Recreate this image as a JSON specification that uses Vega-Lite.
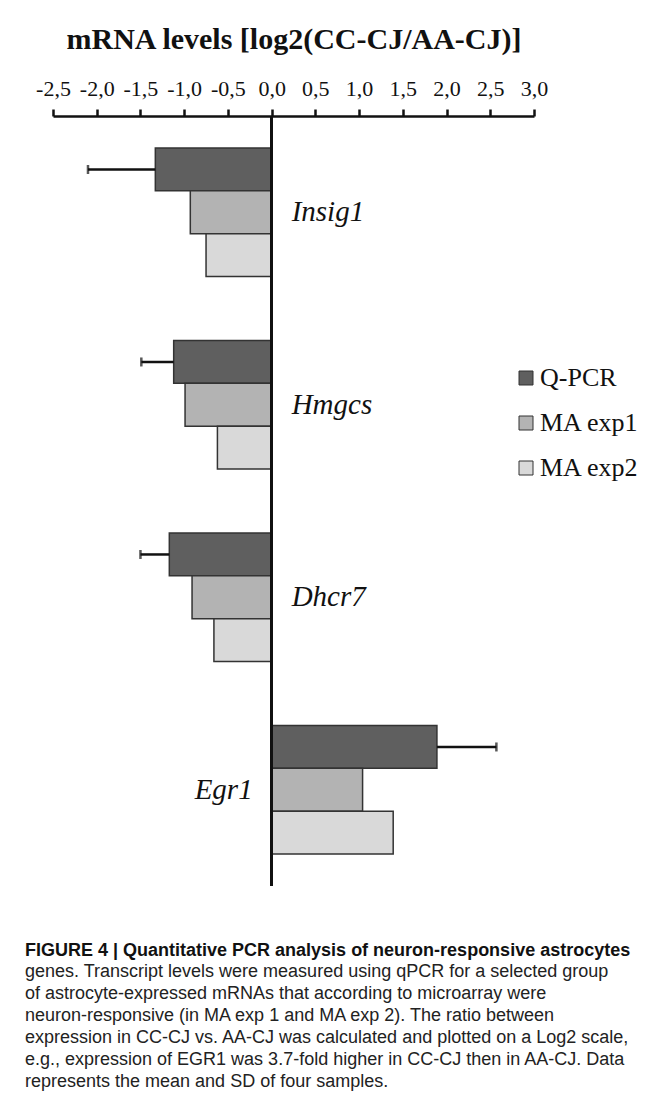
{
  "$schema": "https://vega.github.io/schema/vega-lite/v6.json",
  "width": 481,
  "height": 770,
  "padding": {"left": 25, "top": 24, "right": 5, "bottom": 5},
  "background": "white",
  "config": {"view": {"stroke": null}},
  "title": {
    "text": "FIGURE 4 | Quantitative PCR analysis of neuron-responsive astrocytes",
    "subtitle": [
      "genes.  Transcript levels were measured using qPCR for a selected group",
      "of astrocyte-expressed mRNAs that according to microarray were",
      "neuron-responsive (in MA exp 1 and MA exp 2). The ratio between",
      "expression in CC-CJ vs. AA-CJ was calculated and plotted on a Log2 scale,",
      "e.g., expression of EGR1 was 3.7-fold higher in CC-CJ then in AA-CJ. Data",
      "represents the mean and SD of four samples."
    ],
    "orient": "bottom",
    "anchor": "start",
    "frame": "group",
    "dx": -28,
    "offset": 55,
    "font": "Liberation Sans",
    "fontSize": 18,
    "fontWeight": "bold",
    "color": "#111",
    "subtitleFont": "Liberation Sans",
    "subtitleFontSize": 18,
    "subtitleColor": "#222",
    "subtitleLineHeight": 22,
    "subtitlePadding": 3
  },
  "data": {
    "values": [
      {"gene": "Insig1", "series": "Q-PCR", "value": -1.33, "err": -2.10},
      {"gene": "Insig1", "series": "MA exp1", "value": -0.93, "err": null},
      {"gene": "Insig1", "series": "MA exp2", "value": -0.75, "err": null},
      {"gene": "Hmgcs", "series": "Q-PCR", "value": -1.12, "err": -1.49},
      {"gene": "Hmgcs", "series": "MA exp1", "value": -0.99, "err": null},
      {"gene": "Hmgcs", "series": "MA exp2", "value": -0.62, "err": null},
      {"gene": "Dhcr7", "series": "Q-PCR", "value": -1.17, "err": -1.50},
      {"gene": "Dhcr7", "series": "MA exp1", "value": -0.91, "err": null},
      {"gene": "Dhcr7", "series": "MA exp2", "value": -0.66, "err": null},
      {"gene": "Egr1", "series": "Q-PCR", "value": 1.89, "err": 2.57},
      {"gene": "Egr1", "series": "MA exp1", "value": 1.04, "err": null},
      {"gene": "Egr1", "series": "MA exp2", "value": 1.39, "err": null}
    ]
  },
  "encoding": {
    "y": {
      "field": "gene",
      "type": "nominal",
      "axis": null,
      "scale": {
        "domain": ["Insig1", "Hmgcs", "Dhcr7", "Egr1"],
        "paddingInner": 0.3333,
        "paddingOuter": 0.1667
      }
    }
  },
  "layer": [
    {
      "mark": {"type": "bar", "stroke": "#333333", "strokeWidth": 1.5},
      "encoding": {
        "x": {
          "field": "value",
          "type": "quantitative",
          "scale": {"domain": [-2.5, 3], "nice": false, "zero": false},
          "axis": {
            "orient": "top",
            "title": "mRNA levels [log2(CC-CJ/AA-CJ)]",
            "titleFont": "Liberation Serif",
            "titleFontSize": 30,
            "titleFontWeight": "bold",
            "titleColor": "#111",
            "titlePadding": 23,
            "values": [-2.5, -2, -1.5, -1, -0.5, 0, 0.5, 1, 1.5, 2, 2.5, 3],
            "labelExpr": "(datum.value < 0 ? '-' : '') + replace(format(abs(datum.value), '.1f'), '.', ',')",
            "labelFont": "Liberation Serif",
            "labelFontSize": 22,
            "labelColor": "#111",
            "labelPadding": 9,
            "labelFlush": false,
            "labelOverlap": false,
            "grid": false,
            "domainColor": "#111",
            "domainWidth": 2.5,
            "tickColor": "#111",
            "tickWidth": 2.5,
            "tickSize": 7
          }
        },
        "yOffset": {
          "field": "series",
          "type": "nominal",
          "scale": {"domain": ["Q-PCR", "MA exp1", "MA exp2"], "paddingInner": 0, "paddingOuter": 0}
        },
        "color": {
          "field": "series",
          "type": "nominal",
          "scale": {"domain": ["Q-PCR", "MA exp1", "MA exp2"], "range": ["#5f5f5f", "#b3b3b3", "#d9d9d9"]},
          "legend": {
            "title": null,
            "orient": "none",
            "legendX": 460,
            "legendY": 249,
            "padding": 0,
            "symbolType": "square",
            "symbolSize": 196,
            "symbolStrokeColor": "#333333",
            "symbolStrokeWidth": 1,
            "symbolOpacity": 1,
            "labelFont": "Liberation Serif",
            "labelFontSize": 26,
            "labelColor": "#111",
            "labelOffset": 1,
            "rowPadding": 19
          }
        }
      }
    },
    {
      "transform": [{"filter": "datum.err != null"}],
      "mark": {"type": "rule", "color": "#111", "strokeWidth": 2.5},
      "encoding": {
        "x": {"field": "value", "type": "quantitative"},
        "x2": {"field": "err"},
        "yOffset": {"field": "series", "type": "nominal"}
      }
    },
    {
      "transform": [{"filter": "datum.err != null"}],
      "mark": {"type": "tick", "color": "#111", "thickness": 2.5, "size": 9, "orient": "vertical"},
      "encoding": {
        "x": {"field": "err", "type": "quantitative"},
        "yOffset": {"field": "series", "type": "nominal"}
      }
    },
    {
      "mark": {"type": "rule", "color": "#111", "strokeWidth": 2.5},
      "encoding": {"x": {"datum": 0}, "y": null}
    },
    {
      "transform": [{"filter": "datum.series == 'MA exp1' && datum.value < 0"}],
      "mark": {"type": "text", "align": "left", "baseline": "middle", "dx": 20, "font": "Liberation Serif", "fontStyle": "italic", "fontSize": 29, "color": "#111"},
      "encoding": {"x": {"datum": 0}, "text": {"field": "gene"}}
    },
    {
      "transform": [{"filter": "datum.series == 'MA exp1' && datum.value > 0"}],
      "mark": {"type": "text", "align": "right", "baseline": "middle", "dx": -19, "font": "Liberation Serif", "fontStyle": "italic", "fontSize": 29, "color": "#111"},
      "encoding": {"x": {"datum": 0}, "text": {"field": "gene"}}
    }
  ]
}
